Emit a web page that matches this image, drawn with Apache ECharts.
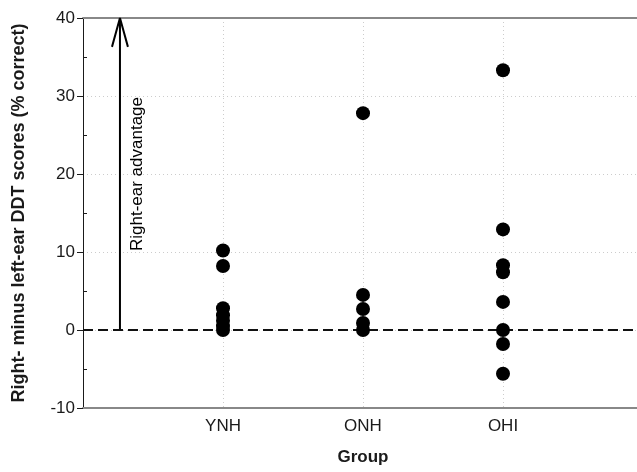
<!DOCTYPE html>
<html>
<head>
<meta charset="utf-8">
<script src="https://cdn.jsdelivr.net/npm/echarts@6/dist/echarts.min.js"></script>
<style>
	html, body { margin: 0; padding: 0; background: #fff; }
	#main { width: 637px; height: 472px; }
</style>
</head>
<body>
<div id="main"></div>
<script>
	// groups on the x axis, placed at 1, 2, 3
	var groups = ['YNH', 'ONH', 'OHI'];

	// right minus left ear scores
	var ynhScores = [10.2, 8.2, 2.8, 1.9, 1.2, 0.5, 0];
	var onhScores = [27.8, 4.5, 2.7, 0.9, 0];
	var ohiScores = [33.3, 12.9, 8.3, 7.4, 3.6, 0, -1.8, -5.6];

	var yTicks = [-10, 0, 10, 20, 30, 40];
	var yMinorTicks = [-5, 5, 15, 25, 35];

	// the "right-ear advantage" arrow, in data units
	var arrowX = 0.264;
	var arrowFrom = 0;
	var arrowTo = 40;
	var headHalfWidth = 0.057;
	var headLength = 3.7;
	var arrowLabelAt = [0.39, 20];

	var myChart = echarts.init(document.getElementById('main'));

	var font = 'Liberation Sans, Arial, sans-serif';
	var ink = '#1a1a1a';

	var points = [];
	[ynhScores, onhScores, ohiScores].forEach(function(scores, i) {
		scores.forEach(function(v) {
			points.push([i + 1, v]);
		});
	});

	var option = {
		animation: false,
		// plot runs a little past the right edge of the picture
		grid: { left: 83, width: 560, top: 18, bottom: 64, outerBoundsMode: 'none' },
		xAxis: [{
			type: 'value',
			min: 0,
			max: 4,
			interval: 1,
			name: 'Group',
			nameLocation: 'middle',
			nameGap: 41,
			nameTextStyle: { fontFamily: font, fontSize: 17, fontWeight: 'bold', color: ink },
			axisLine: { show: true, onZero: false, lineStyle: { color: '#888', width: 2 } },
			axisTick: { show: false },
			axisLabel: {
				margin: 10,
				fontFamily: font,
				fontSize: 17,
				color: ink,
				formatter: function(v) { return groups[v - 1] || ''; }
			},
			splitLine: { show: true, lineStyle: { color: '#ccc', type: [1, 3] } }
		}, {
			type: 'value',
			position: 'top',
			min: 0,
			max: 4,
			axisLine: { show: true, onZero: false, lineStyle: { color: '#888', width: 2 } },
			axisTick: { show: false },
			axisLabel: { show: false },
			splitLine: { show: false }
		}],
		yAxis: [{
			type: 'value',
			min: -10,
			max: 40,
			interval: 10,
			name: 'Right- minus left-ear DDT scores (% correct)',
			nameLocation: 'middle',
			nameGap: 55,
			nameTextStyle: { fontFamily: font, fontSize: 18, fontWeight: 'bold', color: ink },
			axisLine: { show: true, onZero: false, lineStyle: { color: ink, width: 1 } },
			axisTick: { show: true, length: 6, lineStyle: { color: ink }, customValues: yTicks },
			axisLabel: { margin: 8, fontFamily: font, fontSize: 17, color: ink, customValues: yTicks },
			splitLine: { show: true, lineStyle: { color: '#ccc', type: [1, 3] } }
		}, {
			type: 'value',
			min: -10,
			max: 40,
			position: 'left',
			axisLine: { show: false },
			axisTick: { show: true, inside: true, length: 4, lineStyle: { color: ink }, customValues: yMinorTicks },
			axisLabel: { show: false },
			splitLine: { show: false }
		}],
		series: [{
			type: 'scatter',
			data: points,
			symbolSize: 14,
			itemStyle: { color: '#000', opacity: 1 },
			z: 5,
			markLine: {
				silent: true,
				symbol: 'none',
				label: { show: false },
				lineStyle: { color: '#111', width: 2, type: [10, 5] },
				data: [{ yAxis: 0 }]
			}
		}, {
			// arrow shaft
			type: 'line',
			data: [[arrowX, arrowFrom], [arrowX, arrowTo]],
			symbol: 'none',
			lineStyle: { color: '#000', width: 2 },
			z: 4
		}, {
			// arrow head
			type: 'line',
			data: [
				[arrowX - headHalfWidth, arrowTo - headLength],
				[arrowX, arrowTo],
				[arrowX + headHalfWidth, arrowTo - headLength]
			],
			symbol: 'none',
			lineStyle: { color: '#000', width: 2 },
			z: 4
		}, {
			type: 'scatter',
			data: [arrowLabelAt],
			symbolSize: 0,
			itemStyle: { color: '#000', opacity: 1 },
			label: {
				show: true,
				position: 'inside',
				rotate: 90,
				formatter: 'Right-ear advantage',
				fontFamily: font,
				fontSize: 17,
				color: '#000',
				textBorderWidth: 0
			}
		}]
	};

	myChart.setOption(option);
</script>
</body>
</html>
